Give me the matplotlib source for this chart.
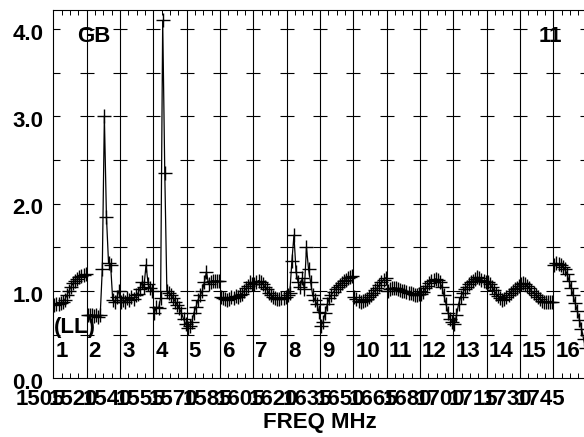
import numpy as np
import matplotlib.pyplot as plt
from matplotlib.transforms import ScaledTranslation

# 굵은 Arial 계열 글꼴
plt.rcParams["font.family"] = ["Liberation Sans", "DejaVu Sans"]
plt.rcParams["font.weight"] = "bold"

# 채널별 시작 주파수 라벨 (MHz)
freq_labels = ["1505", "1520", "1540", "1555", "1570", "1585", "1605", "1620",
               "1635", "1650", "1665", "1680", "1700", "1715", "1730", "1745"]
chan_names = [str(i) for i in range(1, 17)]
y_tick_vals = [0.0, 1.0, 2.0, 3.0, 4.0]

# 채널별 밴드패스 값
ch01 = [0.84, 0.85, 0.85, 0.86, 0.87, 0.90, 0.95, 1.00, 1.05, 1.09, 1.12, 1.14, 1.16, 1.17, 1.18, 1.19]
ch02 = [0.73, 0.72, 0.73, 0.71, 0.72, 0.70, 0.72, 1.25, 3.00, 1.85, 1.32, 1.30, 0.90, 0.88, 0.93, 1.00]
ch03 = [0.88, 0.90, 0.87, 0.92, 0.90, 0.93, 0.91, 0.95, 0.97, 1.02, 1.10, 1.05, 1.30, 1.08, 1.03, 1.00]
ch04 = [0.75, 0.82, 0.80, 0.92, 4.10, 2.35, 1.00, 0.98, 0.95, 0.92, 0.88, 0.84, 0.80, 0.75, 0.68, 0.62]
ch05 = [0.58, 0.60, 0.65, 0.75, 0.82, 0.90, 0.95, 1.00, 1.10, 1.22, 1.08, 1.10, 1.12, 1.11, 1.12, 1.11]
ch06 = [0.93, 0.92, 0.91, 0.90, 0.91, 0.93, 0.92, 0.94, 0.93, 0.95, 0.97, 1.00, 1.03, 1.06, 1.10, 1.08]
ch07 = [1.08, 1.10, 1.12, 1.10, 1.08, 1.05, 1.02, 0.98, 0.95, 0.93, 0.92, 0.91, 0.91, 0.92, 0.92, 0.93]
ch08 = [0.95, 0.98, 1.34, 1.64, 1.22, 1.10, 1.05, 1.15, 1.02, 1.50, 1.25, 1.10, 0.95, 0.90, 0.85, 0.76]
ch09 = [0.60, 0.65, 0.75, 0.85, 0.92, 0.96, 0.99, 1.02, 1.05, 1.07, 1.09, 1.11, 1.13, 1.15, 1.16, 1.17]
ch10 = [0.93, 0.91, 0.89, 0.88, 0.89, 0.90, 0.91, 0.93, 0.95, 0.98, 1.01, 1.04, 1.07, 1.10, 1.13, 1.15]
ch11 = [1.00, 1.02, 1.03, 1.04, 1.03, 1.02, 1.01, 1.00, 1.00, 0.99, 0.98, 0.98, 0.97, 0.96, 0.96, 0.97]
ch12 = [0.97, 0.99, 1.03, 1.06, 1.09, 1.11, 1.13, 1.14, 1.13, 1.10, 1.05, 0.95, 0.85, 0.75, 0.68, 0.64]
ch13 = [0.62, 0.72, 0.85, 0.93, 0.98, 1.02, 1.05, 1.08, 1.10, 1.12, 1.14, 1.16, 1.15, 1.13, 1.11, 1.10]
ch14 = [1.10, 1.08, 1.05, 1.01, 0.97, 0.94, 0.92, 0.90, 0.91, 0.93, 0.96, 0.98, 1.00, 1.02, 1.04, 1.06]
ch15 = [1.08, 1.09, 1.08, 1.06, 1.03, 1.00, 0.98, 0.95, 0.93, 0.91, 0.89, 0.88, 0.87, 0.87, 0.88, 0.88]
ch16 = [1.30, 1.32, 1.31, 1.30, 1.28, 1.25, 1.20, 1.12, 1.04, 0.95, 0.86, 0.77, 0.67, 0.57, 0.45, 0.35]
spectra = [ch01, ch02, ch03, ch04, ch05, ch06, ch07, ch08,
           ch09, ch10, ch11, ch12, ch13, ch14, ch15, ch16]

fig = plt.figure(figsize=(5.84, 4.37), dpi=100)
ax = fig.add_axes([0.0913, 0.1343, 0.9133, 0.8428])
ax.set_xlim(0, 16)
ax.set_ylim(0, 4.22)

# 채널 경계선
for k in range(1, 17):
    ax.axvline(k, color="black", lw=0.8)

# 경계마다 0.5 간격 눈금 (+ 모양)
yt = np.arange(0.5, 4.01, 0.5)
for k in range(17):
    ax.plot(np.full(len(yt), k), yt, ls="none", marker="_", ms=9.5, mew=0.8, color="black")

# 채널별 스펙트럼
for k, vals in enumerate(spectra):
    n = len(vals)
    x = k + (np.arange(n) + 0.5) / n
    ax.plot(x, vals, color="black", lw=0.9, marker="+", ms=10, mew=1.0)

# 채널 번호
for k, name in enumerate(chan_names):
    ax.text(k + 0.06, 0.245, name, fontsize=16, fontweight="bold", va="baseline", ha="left")

ax.text(0.02, 0.52, "(LL)", fontsize=16, fontweight="bold", va="baseline", ha="left")
ax.text(0.71, 3.855, "GB", fontsize=16, fontweight="bold", va="baseline", ha="left")
ax.text(15.26, 3.855, "11", fontsize=16, fontweight="bold", va="baseline", ha="right")

# 축 눈금
ax.set_yticks(y_tick_vals)
ax.set_yticklabels([f"{v:.1f}" for v in y_tick_vals], fontsize=16, fontweight="bold")
ax.tick_params(axis="y", length=0, pad=7)
ax.set_xticks(range(16))
ax.set_xticklabels(freq_labels, fontsize=16, fontweight="bold")
ax.set_xticks(np.arange(0, 16.01, 0.25), minor=True)
ax.tick_params(axis="x", which="major", length=0, pad=8)
ax.tick_params(axis="x", which="minor", direction="in", top=True, bottom=True,
               length=3.6, width=0.7)

shift_x = ScaledTranslation(-13 / 100, 0, fig.dpi_scale_trans)
for lab in ax.get_xticklabels():
    lab.set_transform(lab.get_transform() + shift_x)
shift_y = ScaledTranslation(0, -2.5 / 100, fig.dpi_scale_trans)
for lab in ax.get_yticklabels():
    lab.set_transform(lab.get_transform() + shift_y)

ax.set_xlabel("FREQ MHz", fontsize=16, fontweight="bold", labelpad=1)
for s in ax.spines.values():
    s.set_linewidth(0.8)

plt.savefig("out.png", dpi=100)
